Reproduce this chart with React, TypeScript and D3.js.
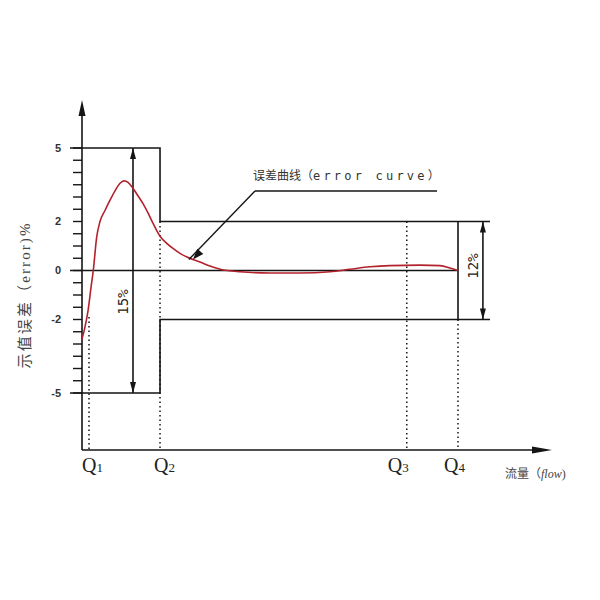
import React from "react";
import * as d3 from "d3";

// Error curve (flow in arbitrary units 0..100, error in %)
const curveFlow = [0, 0.64, 1.28, 1.91, 2.4, 3.13, 3.83, 4.89, 5.96, 7.02, 8.09, 8.94, 9.79, 10.85, 11.9, 12.98, 14.04, 15.1, 16.6, 18.1, 19.36, 20.85, 22.34, 23.6, 25.1, 27.2, 29.4, 33.6, 40, 46.4, 52.8, 57, 61.3, 65.5, 71.9, 76.2, 78.3, 80];
const curveError = [-2.8, -2.3, -1.65, -0.7, 0, 1.37, 2.0, 2.45, 2.87, 3.25, 3.56, 3.66, 3.6, 3.36, 3.05, 2.73, 2.35, 1.93, 1.4, 1.1, 0.9, 0.7, 0.55, 0.45, 0.35, 0.18, 0.05, -0.05, -0.1, -0.1, -0.05, 0.05, 0.15, 0.2, 0.22, 0.2, 0.1, 0];

const qLabels = ["1", "2", "3", "4"];
const qFlow = [1.49, 16.6, 69.1, 80.0];
const yTickLabels = [5, 2, 0, -2, -5];
const minorTicks = d3.range(-5, 5.01, 0.5);
const outerLimit = 5; // low-flow zone  ±5%
const innerLimit = 2; // high-flow zone ±2%

const W = 600, H = 600;
const x = d3.scaleLinear().domain([0, 100]).range([82, 552]);
const y = d3.scaleLinear().domain([-5, 5]).range([393, 148]);
const axisY = 450;
const axisTop = 100;
const tickLeft = 70;
const dimRight = 490;

const C = "#151515";
const RED = "#b3222c";

export default function App() {
  const line = d3
    .line<number>()
    .x((_, i) => x(curveFlow[i]))
    .y((d) => y(d))
    .curve(d3.curveMonotoneX);
  const x0 = x(0);
  const q1 = x(qFlow[0]), q2 = x(qFlow[1]), q3 = x(qFlow[2]), q4 = x(qFlow[3]);
  const dim15 = x(10.85);
  const dim12 = x(85.3);
  const tip = { x: x(23.6), y: y(0.45) };
  const leaderStart = { x: 255, y: 191 };
  const ang = Math.atan2(tip.y - leaderStart.y, tip.x - leaderStart.x);
  const ah = 11, aw = 4;
  const arrowPts = [
    [tip.x, tip.y],
    [tip.x - ah * Math.cos(ang) + aw * Math.sin(ang), tip.y - ah * Math.sin(ang) - aw * Math.cos(ang)],
    [tip.x - ah * Math.cos(ang) - aw * Math.sin(ang), tip.y - ah * Math.sin(ang) + aw * Math.cos(ang)],
  ];
  const dimMarker = (cx: number, cy: number, dir: number) =>
    `M${cx},${cy} L${cx - 3},${cy + dir * 11} L${cx + 3},${cy + dir * 11} Z`;
  const dotted = { stroke: C, strokeWidth: 1.5, strokeDasharray: "1.5,3" };
  const solid = { stroke: C, strokeWidth: 1.6, fill: "none" };

  return (
    <svg width={W} height={H} style={{ position: "absolute", left: 0, top: 0, background: "#fff" }}>
      {/* axes */}
      <line x1={x0} y1={axisY} x2={x0} y2={axisTop + 8} {...solid} />
      <path d={`M${x0},${axisTop} L${x0 - 3.5},${axisTop + 16} L${x0 + 3.5},${axisTop + 16} Z`} fill={C} />
      <line x1={x0} y1={axisY} x2={x(100) - 8} y2={axisY} {...solid} />
      <path d={`M${x(100)},${axisY} L${x(100) - 20},${axisY - 3.5} L${x(100) - 20},${axisY + 3.5} Z`} fill={C} />

      {/* minor ticks */}
      {minorTicks.map((t) => (
        <line key={t} x1={x0 - 9} x2={x0} y1={y(t)} y2={y(t)} stroke={C} strokeWidth={1.4} />
      ))}
      {yTickLabels.map((t) => (
        <text key={t} x={61} y={y(t)} dy="0.36em" textAnchor="end" fontFamily="Liberation Sans, Arial, sans-serif" fontSize={11} fontWeight="bold" fill="#333">
          {t < 0 ? "-" + Math.abs(t) : t}
        </text>
      ))}

      {/* tolerance envelope */}
      <path
        d={`M${tickLeft},${y(outerLimit)} H${q2} V${y(innerLimit)} H${dimRight}`}
        {...solid}
      />
      <path
        d={`M${tickLeft},${y(-outerLimit)} H${q2} V${y(-innerLimit)} H${dimRight}`}
        {...solid}
      />
      <line x1={q4} x2={q4} y1={y(innerLimit)} y2={y(-innerLimit)} {...solid} />
      <line x1={tickLeft} x2={q4} y1={y(0)} y2={y(0)} {...solid} />

      {/* dotted verticals */}
      <line x1={q1} x2={q1} y1={y(-1.9)} y2={axisY} {...dotted} />
      <line x1={q2} x2={q2} y1={y(innerLimit)} y2={axisY} {...dotted} />
      <line x1={q3} x2={q3} y1={y(innerLimit)} y2={axisY} {...dotted} />
      <line x1={q4} x2={q4} y1={y(-innerLimit)} y2={axisY} {...dotted} />

      {/* 15% dimension */}
      <line x1={dim15} x2={dim15} y1={y(outerLimit)} y2={y(-outerLimit)} {...solid} />
      <path d={dimMarker(dim15, y(outerLimit), 1)} fill={C} />
      <path d={dimMarker(dim15, y(-outerLimit), -1)} fill={C} />
      <text transform={`translate(${dim15 - 5},${302}) rotate(-90)`} textAnchor="middle" fontFamily="DejaVu Sans Mono, monospace" fontSize={14} fill="#222">
        15%
      </text>

      {/* 12% dimension */}
      <line x1={dim12} x2={dim12} y1={y(innerLimit)} y2={y(-innerLimit)} {...solid} />
      <path d={dimMarker(dim12, y(innerLimit), 1)} fill={C} />
      <path d={dimMarker(dim12, y(-innerLimit), -1)} fill={C} />
      <text transform={`translate(${dim12 - 5},${266}) rotate(-90)`} textAnchor="middle" fontFamily="DejaVu Sans Mono, monospace" fontSize={14} fill="#222">
        12%
      </text>

      {/* error curve */}
      <path d={line(curveError) || ""} fill="none" stroke={RED} strokeWidth={1.6} />

      {/* annotation */}
      <line x1={leaderStart.x} y1={leaderStart.y} x2={437} y2={leaderStart.y} {...solid} />
      <line x1={leaderStart.x} y1={leaderStart.y} x2={tip.x + 6 * Math.cos(ang)} y2={tip.y + 0} stroke={C} strokeWidth={1.4} />
      <polygon points={arrowPts.map((p) => p.join(",")).join(" ")} fill={C} />
      <text x={253} y={180} fontSize={12} fill="#333">
        <tspan fontFamily="Noto Sans CJK SC">误差曲线（</tspan>
        <tspan fontFamily="DejaVu Sans Mono, monospace" letterSpacing={3.2}>error curve</tspan>
        <tspan fontFamily="Noto Sans CJK SC">）</tspan>
      </text>

      {/* Q labels */}
      {qLabels.map((lab, i) => {
        const offs = [-7, -6, -19, -14];
        return (
          <text key={lab} x={x(qFlow[i]) + offs[i]} y={472} fontFamily="Liberation Serif, Times New Roman, serif" fontSize={20} fill="#222">
            Q<tspan fontSize={13}>{lab}</tspan>
          </text>
        );
      })}
      <text x={505} y={478} fontSize={12} fill="#444">
        <tspan fontFamily="Noto Sans CJK SC">流量（</tspan>
        <tspan fontFamily="Liberation Serif, serif" fontStyle="italic">flow</tspan>
        <tspan fontFamily="Liberation Serif, serif">)</tspan>
      </text>

      {/* y label */}
      <text transform={`translate(30,296) rotate(-90)`} textAnchor="middle" fontSize={15} fill="#444" textLength={145} lengthAdjust="spacing">
        <tspan fontFamily="Noto Sans CJK SC">示值误差（</tspan>
        <tspan fontFamily="Liberation Serif, serif">error)%</tspan>
      </text>
    </svg>
  );
}
